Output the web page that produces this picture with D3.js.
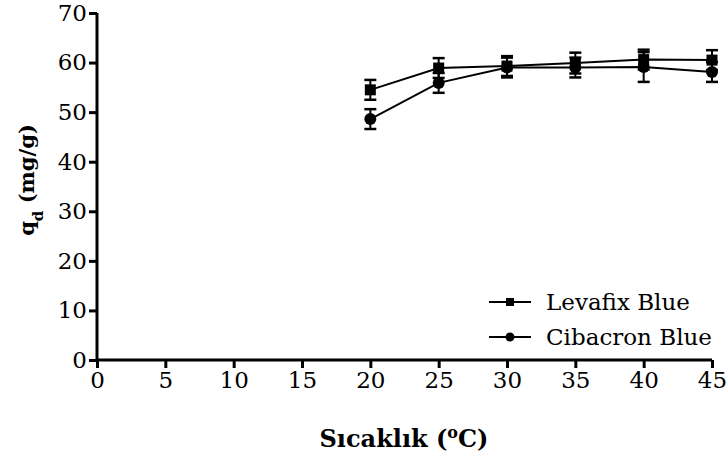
<!DOCTYPE html>
<html>
<head>
<meta charset="utf-8">
<script src="https://cdn.jsdelivr.net/npm/d3@7"></script>
<style>
  body { margin: 0; background: #fff; }
</style>
</head>
<body>
<div class="chart"></div>
<script>
/* temperature (x) and adsorbed amount (y) */
var temperatures = [20, 25, 30, 35, 40, 45];
var levafixValues = [54.5, 58.9, 59.3, 59.9, 60.6, 60.5];
var levafixErrors = [2.0, 2.0, 2.0, 2.1, 2.0, 2.0];
var cibacronValues = [48.6, 55.9, 59.0, 59.0, 59.1, 58.1];
var cibacronErrors = [2.0, 2.0, 2.0, 2.0, 3.0, 2.0];
var xTicks = [0, 5, 10, 15, 20, 25, 30, 35, 40, 45];
var yTicks = [0, 10, 20, 30, 40, 50, 60, 70];
var seriesNames = ["Levafix Blue", "Cibacron Blue"];

/* only this serif family resolves in the renderer */
var FONT = "DejaVu Serif";
var WIDTH = 728, HEIGHT = 459;
var margin = { left: 97, right: 16, top: 13, bottom: 99 };

var svg = d3.select("div.chart").append("svg")
  .attr("width", WIDTH).attr("height", HEIGHT)
  .attr("font-family", FONT);

var x = d3.scaleLinear().domain([0, 45]).range([margin.left, WIDTH - margin.right]);
var y = d3.scaleLinear().domain([0, 70]).range([HEIGHT - margin.bottom, margin.top]);

/* axes */
var xAxis = svg.append("g")
  .attr("transform", "translate(0," + y(0) + ")")
  .call(d3.axisBottom(x).tickValues(xTicks).tickSize(8).tickPadding(4).tickFormat(d3.format("d")));
var yAxis = svg.append("g")
  .attr("transform", "translate(" + x(0) + ",0)")
  .call(d3.axisLeft(y).tickValues(yTicks).tickSize(8).tickPadding(2).tickFormat(d3.format("d")));

[xAxis, yAxis].forEach(function styleAxis(ax) {
  ax.attr("font-family", FONT).attr("font-size", 23);
  ax.select(".domain").attr("stroke", "#000").attr("stroke-width", 3);
  ax.selectAll(".tick line").attr("stroke", "#000").attr("stroke-width", 3);
  ax.selectAll(".tick text").attr("fill", "#000");
});
xAxis.select(".domain").attr("d", "M" + x(0) + ",0H" + x(45));
yAxis.select(".domain").attr("d", "M0," + y(0) + "V" + y(70));

/* axis titles */
svg.append("text")
  .attr("x", 404).attr("y", 447)
  .attr("text-anchor", "middle")
  .attr("font-size", 24).attr("font-weight", "bold")
  .html("Sıcaklık (<tspan baseline-shift='super' font-size='16'>o</tspan>C)");

svg.append("text")
  .attr("transform", "translate(34," + 180 + ") rotate(-90)")
  .attr("text-anchor", "middle")
  .attr("font-size", 21).attr("font-weight", "bold")
  .html("q<tspan baseline-shift='sub' font-size='15'>d</tspan> (mg/g)");

/* series */
var series = [
  { name: seriesNames[0], values: levafixValues, errors: levafixErrors, marker: "square" },
  { name: seriesNames[1], values: cibacronValues, errors: cibacronErrors, marker: "circle" }
];

var line = d3.line()
  .x(function (d) { return x(d.t); })
  .y(function (d) { return y(d.v); });

function drawMarker(g, type, cx, cy, size) {
  if (type === "square") {
    g.append("rect").attr("x", cx - size / 2).attr("y", cy - size / 2)
      .attr("width", size).attr("height", size).attr("fill", "#000");
  } else {
    g.append("circle").attr("cx", cx).attr("cy", cy).attr("r", size / 2 + 0.5).attr("fill", "#000");
  }
}

series.forEach(function drawSeries(s) {
  var pts = temperatures.map(function (t, i) { return { t: t, v: s.values[i], e: s.errors[i] }; });
  var g = svg.append("g");
  g.append("path").datum(pts)
    .attr("d", line).attr("fill", "none").attr("stroke", "#000").attr("stroke-width", 2);
  pts.forEach(function (p) {
    var cx = x(p.t);
    g.append("line").attr("x1", cx).attr("x2", cx)
      .attr("y1", y(p.v - p.e)).attr("y2", y(p.v + p.e))
      .attr("stroke", "#000").attr("stroke-width", 2);
    [p.v - p.e, p.v + p.e].forEach(function (v) {
      g.append("line").attr("x1", cx - 6).attr("x2", cx + 6)
        .attr("y1", y(v)).attr("y2", y(v))
        .attr("stroke", "#000").attr("stroke-width", 2.5);
    });
    drawMarker(g, s.marker, cx, y(p.v), 11);
  });
});

/* legend */
var legend = svg.append("g");
series.forEach(function (s, i) {
  var ly = 302 + i * 35;
  legend.append("line").attr("x1", 489).attr("x2", 531).attr("y1", ly).attr("y2", ly)
    .attr("stroke", "#000").attr("stroke-width", 2);
  drawMarker(legend, s.marker, 510, ly, 8);
  legend.append("text").attr("x", 546).attr("y", ly + 8)
    .attr("font-size", 23).text(s.name);
});
</script>
</body>
</html>
